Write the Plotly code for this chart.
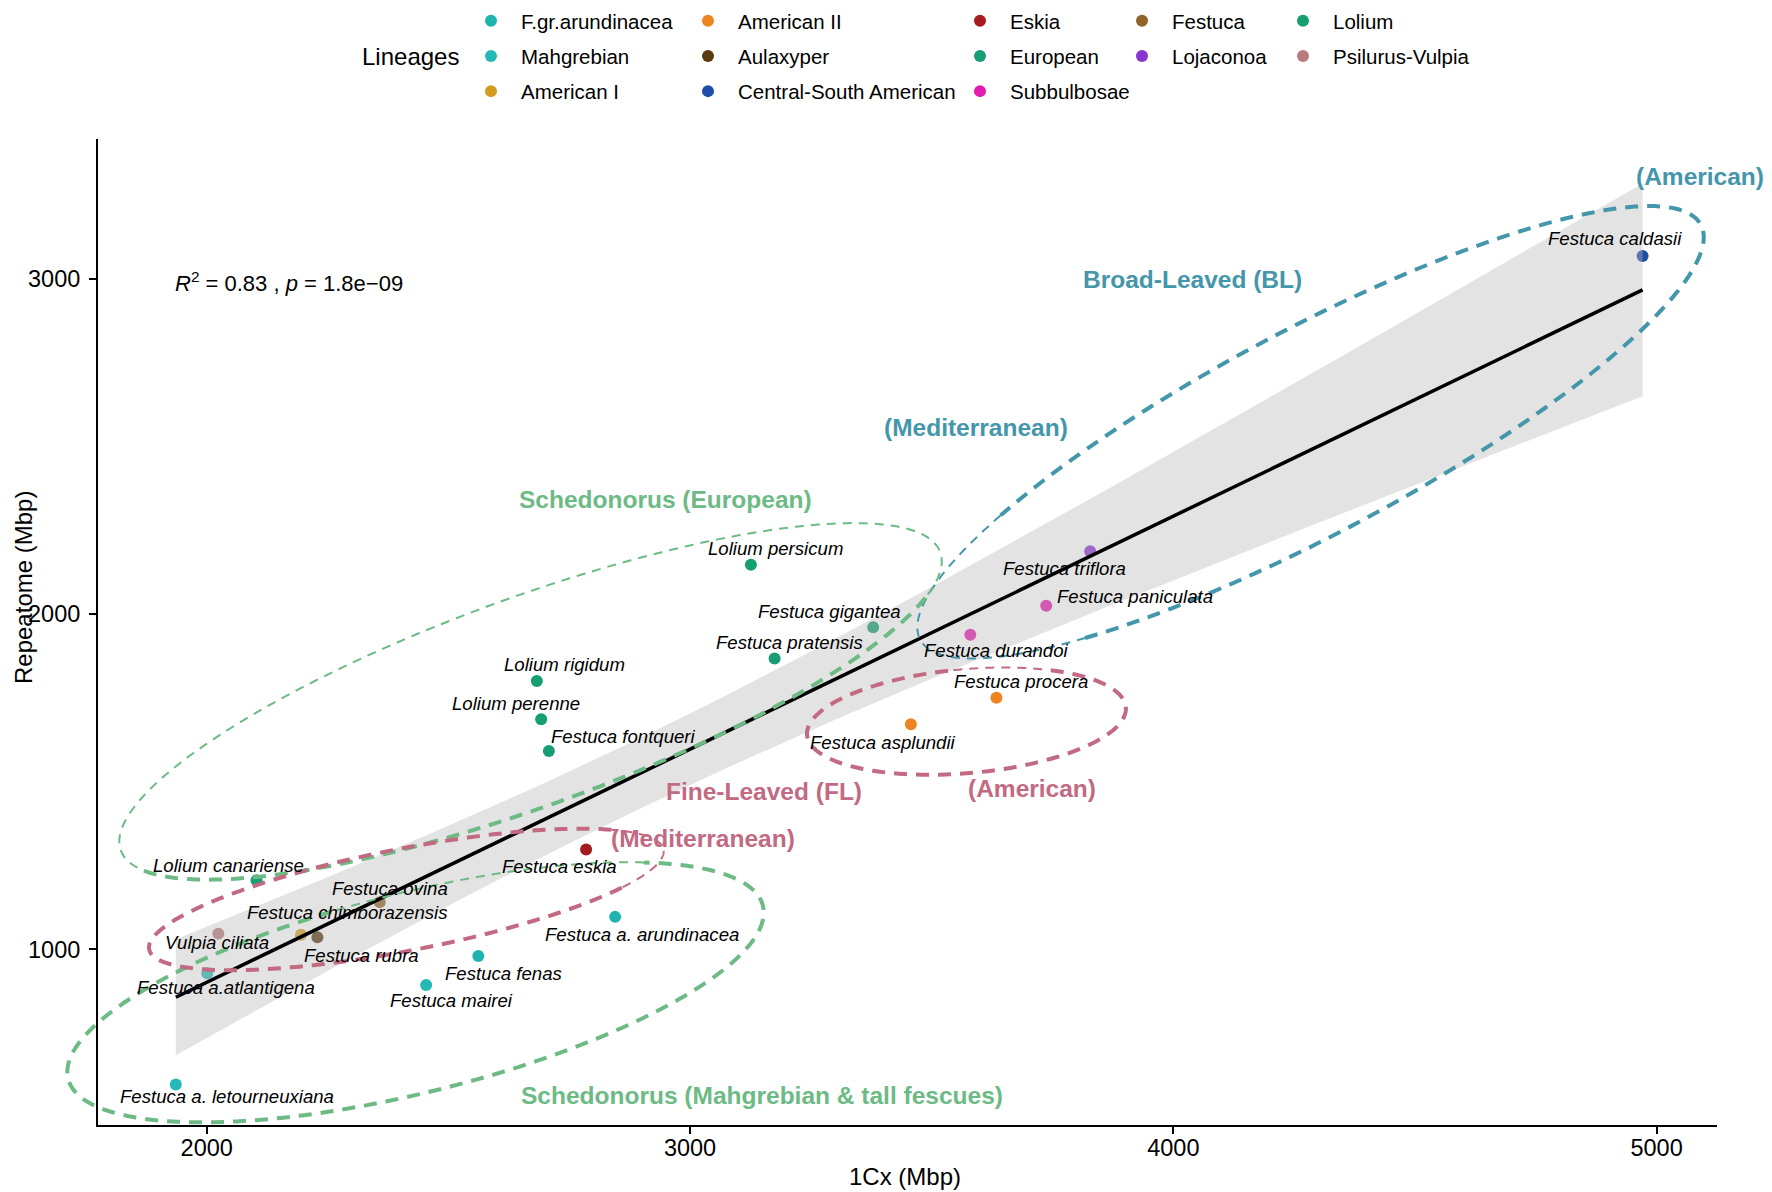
import numpy as np
import plotly.graph_objects as go

# ---- data ----
species = [
    'Festuca caldasii', 'Festuca triflora', 'Festuca paniculata', 'Festuca durandoi',
    'Festuca procera', 'Festuca asplundii', 'Lolium persicum', 'Festuca gigantea',
    'Festuca pratensis', 'Lolium rigidum', 'Lolium perenne', 'Festuca fontqueri',
    'Lolium canariense', 'Festuca eskia', 'Festuca ovina', 'Festuca chimborazensis',
    'Festuca rubra', 'Vulpia ciliata', 'Festuca a.atlantigena', 'Festuca fenas',
    'Festuca mairei', 'Festuca a. arundinacea', 'Festuca a. letourneuxiana',
]
lineage = [
    'Central-South American', 'Lojaconoa', 'Subbulbosae', 'Subbulbosae',
    'American II', 'American II', 'Lolium', 'European',
    'European', 'Lolium', 'Lolium', 'European',
    'Lolium', 'Eskia', 'Festuca', 'American I',
    'Aulaxyper', 'Psilurus-Vulpia', 'Mahgrebian', 'F.gr.arundinacea',
    'Mahgrebian', 'F.gr.arundinacea', 'Mahgrebian',
]
cx_mbp = [4971, 3828, 3737, 3580, 3634, 3457, 3126, 3379, 3175, 2683, 2692, 2708,
          2103, 2785, 2358, 2195, 2229, 2024, 2001, 2562, 2454, 2845, 1936]
repeatome = [3069, 2188, 2025, 1939, 1751, 1672, 2148, 1961, 1868, 1801, 1687, 1592,
             1206, 1298, 1141, 1044, 1036, 1047, 929, 980, 894, 1097, 597]

# label offsets (px) from each point
label_dx = [-28, -26, 89, 26, 25, -28, 25, -44, 15, 28, -25, 75,
            -28, -27, 10, 46, 44, -1, 19, 25, 25, 27, 51]
label_dy = [17, -17, 9, -16, 16, -18, 16, 16, 16, 16, 16, 14,
            15, -17, 14, 22, -18, -9, -14, -17, -16, -18, -12]

# legend columns (ggplot fills by column)
legend_cols = [
    ['F.gr.arundinacea', 'Mahgrebian', 'American I'],
    ['American II', 'Aulaxyper', 'Central-South American'],
    ['Eskia', 'European', 'Subbulbosae'],
    ['Festuca', 'Lojaconoa'],
    ['Lolium', 'Psilurus-Vulpia'],
]
lineage_colors = {
    'F.gr.arundinacea': '#1fb3b0', 'Mahgrebian': '#26b8b6', 'American I': '#d49b22',
    'American II': '#ee8421', 'Aulaxyper': '#5b3a12', 'Central-South American': '#1d4da6',
    'Eskia': '#a51b1f', 'European': '#179c73', 'Subbulbosae': '#e21cb1',
    'Festuca': '#93632a', 'Lojaconoa': '#8a33cf', 'Lolium': '#15a070',
    'Psilurus-Vulpia': '#b87b7b',
}

BLUE, GREEN, PINK = '#4496ab', '#6dba85', '#c26a82'
group_labels = [
    ('(American)', 5090, 3307, BLUE),
    ('Broad-Leaved (BL)', 4040, 3000, BLUE),
    ('(Mediterranean)', 3592, 2557, BLUE),
    ('Schedonorus (European)', 2950, 2341, GREEN),
    ('Fine-Leaved (FL)', 3153, 1470, PINK),
    ('(American)', 3708, 1480, PINK),
    ('(Mediterranean)', 3027, 1331, PINK),
    ('Schedonorus (Mahgrebian & tall fescues)', 3148, 564, GREEN),
]

# ---- layout geometry (page body adds an 8px offset) ----
OFF = 8
W, H = 1772 - OFF, 1192 - OFF
M = dict(l=98 - OFF, r=55, t=139 - OFF, b=67, autoexpand=False)
PW = W - M['l'] - M['r']
PH = H - M['t'] - M['b']
X_RANGE = [1775, 5125]
Y_RANGE = [476, 3418]
px_x = PW / (X_RANGE[1] - X_RANGE[0])
px_y = PH / (Y_RANGE[1] - Y_RANGE[0])
PLOT_LEFT, PLOT_BOTTOM = 98, 1125  # page px


def page_to_paper(px, py):
    return (px - PLOT_LEFT) / PW, (PLOT_BOTTOM - py) / PH


FONT = 'Liberation Sans, Arial, sans-serif'

# group outlines: center (data), semi-axes (px), angle (deg), segments (t0, t1, width)
outlines = [
    (BLUE, 4284, 2543, 442, 102, 28, [(-132, 135, 4), (135, 228, 2)]),
    (GREEN, 2670, 1740, 436, 104, 20, [(195, 340, 4), (-20, 195, 2)]),
    (GREEN, 2432, 872, 358, 100, 14, [(100, 405, 4), (45, 100, 2)]),
    (PINK, 2413, 1149, 262, 51, 11, [(35, 325, 4), (-35, 35, 2)]),
    (PINK, 3572, 1681, 160, 52, 5, [(95, 420, 4), (60, 95, 2)]),
]


def ellipse_path(cx, cy, a, b, ang, t0, t1):
    # outline in paper coords so it may run past the axes like the original
    t = np.radians(np.linspace(t0, t1, 150))
    th = np.radians(ang)
    ux = a * np.cos(t) * np.cos(th) - b * np.sin(t) * np.sin(th)
    uy = a * np.cos(t) * np.sin(th) + b * np.sin(t) * np.cos(th)
    xp = ((cx - X_RANGE[0]) * px_x + ux) / PW
    yp = ((cy - Y_RANGE[0]) * px_y + uy) / PH
    pts = [f'{x:.5f},{y:.5f}' for x, y in zip(xp, yp)]
    return 'M ' + ' L '.join(pts)


# ---- linear fit with 95% band ----
xa = np.array(cx_mbp, dtype=float)
ya = np.array(repeatome, dtype=float)
slope, icpt = np.polyfit(xa, ya, 1)
n = len(xa)
resid = ya - (icpt + slope * xa)
s = np.sqrt((resid ** 2).sum() / (n - 2))
sxx = ((xa - xa.mean()) ** 2).sum()
xs = np.linspace(xa.min(), xa.max(), 100)
yhat = icpt + slope * xs
se = s * np.sqrt(1 / n + (xs - xa.mean()) ** 2 / sxx)
t975 = 2.080
lo, hi = yhat - t975 * se, yhat + t975 * se

fig = go.Figure()

legend_names = ['legend', 'legend2', 'legend3', 'legend4', 'legend5']
for ci, col in enumerate(legend_cols):
    for lin in col:
        idx = [i for i, l in enumerate(lineage) if l == lin]
        fig.add_trace(go.Scatter(
            x=[cx_mbp[i] for i in idx], y=[repeatome[i] for i in idx],
            mode='markers', name=lin, legend=legend_names[ci], legendgroup=lin,
            marker=dict(color=lineage_colors[lin], size=12),
            text=[species[i] for i in idx], hoverinfo='text',
        ))

fig.add_trace(go.Scatter(
    x=np.concatenate([xs, xs[::-1]]).tolist(), y=np.concatenate([lo, hi[::-1]]).tolist(),
    fill='toself', fillcolor='rgba(185,185,185,0.40)', line=dict(width=0),
    mode='lines', showlegend=False, hoverinfo='skip',
))
fig.add_trace(go.Scatter(
    x=xs.tolist(), y=yhat.tolist(), mode='lines', line=dict(color='black', width=3.5),
    showlegend=False, hoverinfo='skip',
))

shapes = []
for color, cx, cy, a, b, ang, segs in outlines:
    for t0, t1, w in segs:
        shapes.append(dict(
            type='path', xref='paper', yref='paper', layer='above',
            path=ellipse_path(cx, cy, a, b, ang, t0, t1),
            line=dict(color=color, width=w, dash='13px,9px' if w > 3 else '9px,7px'),
        ))

annotations = []
for i, sp in enumerate(species):
    annotations.append(dict(
        x=cx_mbp[i], y=repeatome[i], text=f'<i>{sp}</i>', showarrow=False,
        xshift=label_dx[i], yshift=label_dy[i],
        font=dict(family=FONT, size=18.6, color='black'),
    ))
for txt, gx, gy, color in group_labels:
    annotations.append(dict(
        x=gx, y=gy, text=f'<b>{txt}</b>', showarrow=False,
        font=dict(family=FONT, size=24.5, color=color),
    ))
annotations.append(dict(
    x=1930, y=2991, xanchor='left', yanchor='middle', showarrow=False,
    text='<i>R</i><sup>2</sup> = 0.83 , <i>p</i> = 1.8e\u221209',
    font=dict(family=FONT, size=22, color='black'),
))
lx, ly = page_to_paper(360, 56)
annotations.append(dict(
    x=lx, y=ly, xref='paper', yref='paper', xanchor='left', yanchor='middle',
    showarrow=False, text='Lineages', font=dict(family=FONT, size=24, color='black'),
))
tx, ty = page_to_paper(905, 1176)
annotations.append(dict(
    x=tx, y=ty, xref='paper', yref='paper', xanchor='center', yanchor='middle',
    showarrow=False, text='1Cx (Mbp)', font=dict(family=FONT, size=24, color='black'),
))
tx, ty = page_to_paper(23, 588)
annotations.append(dict(
    x=tx, y=ty, xref='paper', yref='paper', xanchor='center', yanchor='middle',
    showarrow=False, textangle=-90,
    text='Repeatome (Mbp)', font=dict(family=FONT, size=24, color='black'),
))

# legend column left edges in page px
legend_left = [461, 678, 950, 1112, 1273]
legends = {}
for ci, key in enumerate(legend_names):
    lgx, lgy = page_to_paper(legend_left[ci], 1)
    legends[key] = dict(
        x=lgx, y=lgy, xref='paper', yref='paper',
        xanchor='left', yanchor='top', orientation='v', traceorder='grouped',
        tracegroupgap=5.5, itemwidth=50, bgcolor='rgba(0,0,0,0)',
        font=dict(family=FONT, size=20.5, color='black'),
    )

fig.update_layout(
    width=W, height=H, margin=M,
    paper_bgcolor='white', plot_bgcolor='white',
    font=dict(family=FONT, color='black'),
    annotations=annotations, shapes=shapes,
    **legends,
)
axis_style = dict(
    showline=True, linecolor='black', linewidth=2, ticks='outside', ticklen=7,
    tickwidth=2, tickcolor='black', showgrid=False, zeroline=False, automargin=False,
    tickfont=dict(family=FONT, size=23.5, color='black'),
)
fig.update_xaxes(range=X_RANGE, tickvals=[2000, 3000, 4000, 5000],
                 ticklabelstandoff=-6, **axis_style)
fig.update_yaxes(range=Y_RANGE, tickvals=[1000, 2000, 3000],
                 ticklabelstandoff=4, **axis_style)

fig.write_html('out.html')
